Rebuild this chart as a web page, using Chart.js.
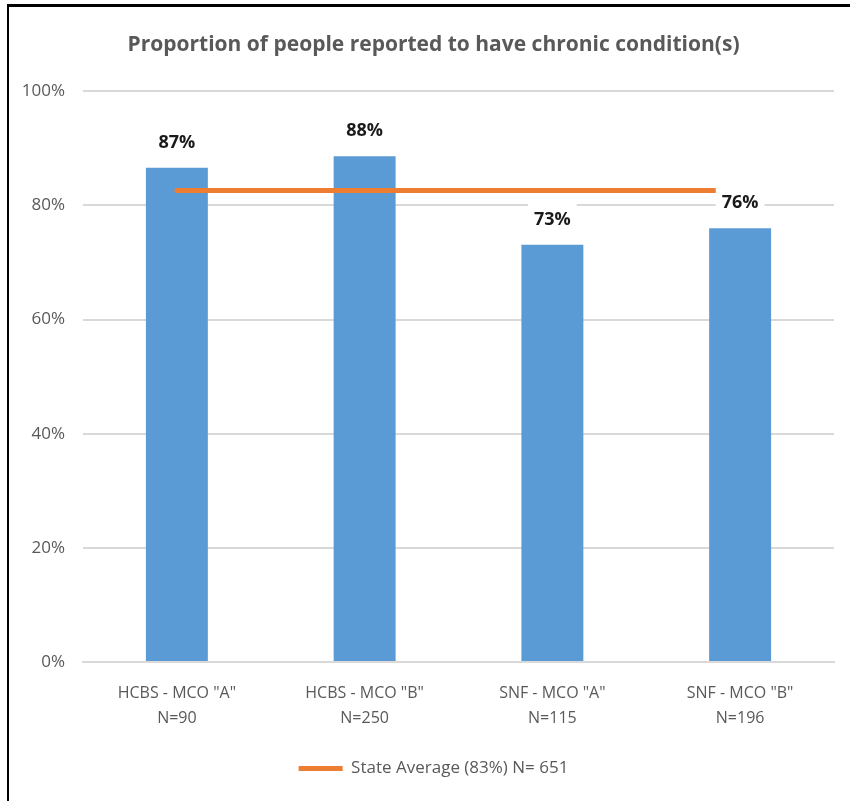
<!DOCTYPE html>
<html>
<head>
<meta charset="utf-8">
<script src="https://cdn.jsdelivr.net/npm/chart.js@4/dist/chart.umd.min.js"></script>
<style>
  html, body { margin: 0; padding: 0; background: #fff; }
  #wrap { position: relative; width: 850px; height: 801px; }
  #frame { position: absolute; left: 7px; top: 4px; right: 0; bottom: 0;
           border-left: 2px solid #000; border-top: 3px solid #000; pointer-events: none; }
  canvas { position: absolute; left: 0; top: 0; }
</style>
</head>
<body>
<div id="wrap">
  <canvas id="myChart" width="850" height="801"></canvas>
  <div id="frame"></div>
</div>
<script>
const categories = [
  ['HCBS - MCO "A"', 'N=90'],
  ['HCBS - MCO "B"', 'N=250'],
  ['SNF - MCO "A"', 'N=115'],
  ['SNF - MCO "B"', 'N=196']
];
const chronicPct = [86.6, 88.6, 73.1, 76.0];
const valueLabels = ['87%', '88%', '73%', '76%'];
const stateAverage = [82.6, 82.6, 82.6, 82.6];
const yTicks = [0, 20, 40, 60, 80, 100];

const FONT = "'Open Sans', sans-serif";

// labels above the bars, on a white box (hides grid + line behind them)
const barLabels = {
  id: 'barLabels',
  afterDatasetsDraw(chart) {
    const ctx = chart.ctx;
    const meta = chart.getDatasetMeta(0);
    ctx.save();
    ctx.font = 'bold 18px ' + FONT;
    ctx.textAlign = 'center';
    ctx.textBaseline = 'middle';
    meta.data.forEach((bar, i) => {
      const txt = valueLabels[i];
      const y = bar.y - 25;
      const w = ctx.measureText(txt).width + 12;
      ctx.fillStyle = '#fff';
      ctx.fillRect(bar.x - w / 2, y - 18, w, 31);
      ctx.fillStyle = '#1a1a1a';
      ctx.fillText(txt, bar.x, y);
    });
    ctx.restore();
  }
};

new Chart(document.getElementById('myChart'), {
  data: {
    labels: categories,
    datasets: [{
      type: 'bar',
      label: 'Chronic condition(s)',
      data: chronicPct,
      backgroundColor: '#5B9BD5',
      categoryPercentage: 1,
      barPercentage: 0.33,
      order: 2
    }, {
      type: 'line',
      label: 'State Average (83%) N= 651',
      data: stateAverage,
      borderColor: '#ED7D31',
      backgroundColor: '#ED7D31',
      borderWidth: 5,
      pointRadius: 0,
      borderCapStyle: 'round',
      order: 1
    }]
  },
  options: {
    responsive: false,
    animation: false,
    layout: { padding: { left: 17, right: 0, top: 0, bottom: 14 } },
    plugins: {
      title: {
        display: true,
        text: 'Proportion of people reported to have chronic condition(s)',
        color: '#595959',
        font: { family: FONT, size: 21, weight: 'bold' },
        padding: { top: 32, bottom: 34 }
      },
      legend: {
        position: 'bottom',
        labels: {
          filter: (item) => item.datasetIndex === 1,
          usePointStyle: true,
          pointStyle: 'line',
          pointStyleWidth: 44,
          color: '#595959',
          font: { family: FONT, size: 17 },
          padding: 12
        }
      },
      tooltip: { enabled: false }
    },
    scales: {
      x: {
        grid: { display: false, drawTicks: false },
        border: { display: true, color: '#d9d9d9', width: 2 },
        ticks: {
          color: '#595959',
          font: { family: FONT, size: 16, lineHeight: 1.55 },
          padding: 19,
          maxRotation: 0
        },
        afterFit: (s) => { s.height = 86; }
      },
      y: {
        min: 0,
        max: 100,
        grid: { color: '#d9d9d9', lineWidth: 2, drawTicks: false },
        border: { display: false },
        ticks: {
          stepSize: 20,
          color: '#595959',
          font: { family: FONT, size: 17 },
          padding: 18,
          callback: (v) => yTicks.includes(v) ? v + '%' : ''
        },
        afterFit: (s) => { s.width = 66; }
      },
      // empty right-hand gutter so title/legend center like the original
      yRight: {
        position: 'right',
        grid: { display: false },
        border: { display: false },
        ticks: { display: false },
        afterFit: (s) => { s.width = 16; }
      }
    }
  },
  plugins: [barLabels]
});
</script>
</body>
</html>
